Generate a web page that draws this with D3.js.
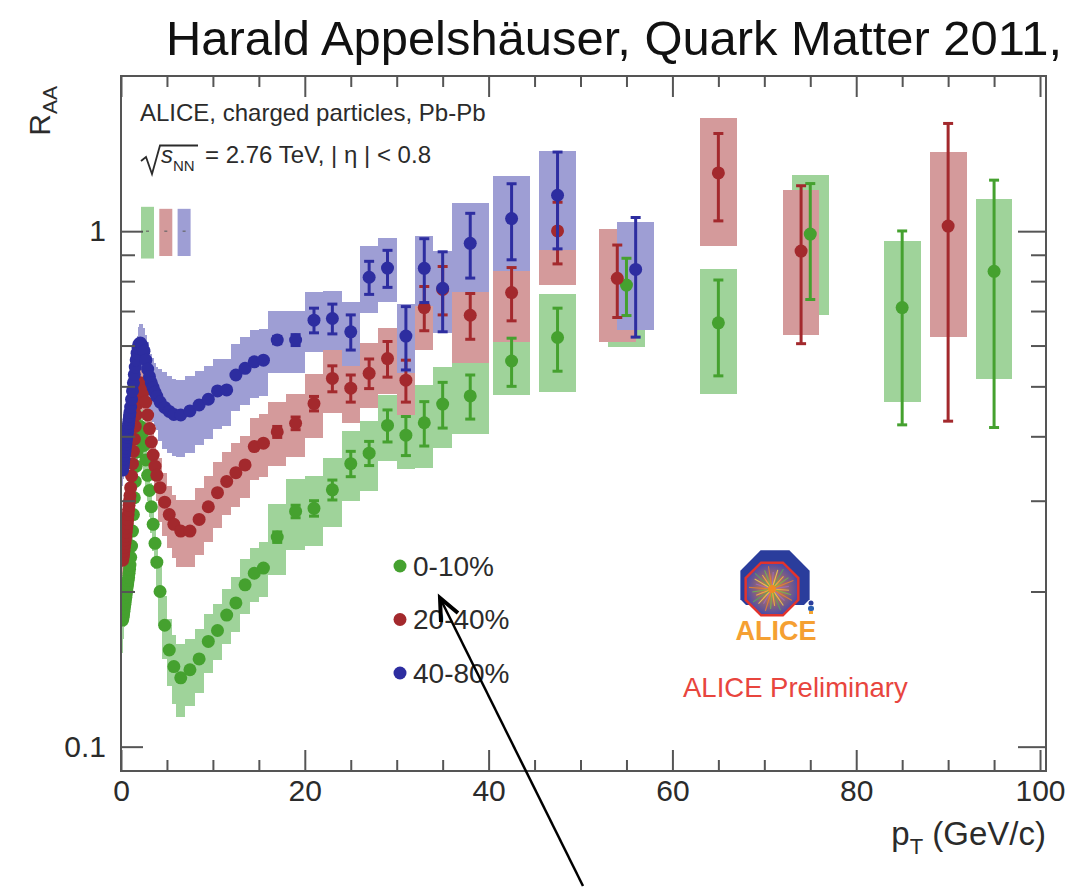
<!DOCTYPE html>
<html>
<head>
<meta charset="utf-8">
<script src="https://cdn.jsdelivr.net/npm/d3@7"></script>
<style>
  body { margin: 0; background: #fff; }
  svg { display: block; }
  text { font-family: "Liberation Sans", Arial, Helvetica, sans-serif; }
</style>
</head>
<body>
<div id="chart"></div>
<script>
// ALICE charged-particle R_AA, Pb-Pb 2.76 TeV (QM2011 preliminary)

// pT bin edges (GeV/c)
const binEdges = [0.15,0.2,0.25,0.3,0.35,0.4,0.45,0.5,0.55,0.6,0.65,0.7,0.75,0.8,0.85,0.9,0.95,1.0,
  1.1,1.2,1.3,1.4,1.5,1.6,1.7,1.8,1.9,2.0,2.2,2.4,2.6,2.8,3.0,3.2,3.4,3.6,3.8,4.0,4.5,5.0,5.5,6,7,8,
  9,10,11,12,13,14,15,16,18,20,22,24,26,28,30,32,34,36,40,45,50,60,70,80,90,100]

// pT points shared by all centralities
const ptCommon = [0.175,0.225,0.275,0.325,0.375,0.425,0.475,0.525,0.575,0.625,0.675,0.725,0.775,0.825,0.875,0.925,0.975,
  1.05,1.15,1.25,1.35,1.45,1.55,1.65,1.75,1.85,1.95,
  2.1,2.3,2.5,2.7,2.9,3.1,3.3,3.5,3.7,3.9,
  4.25,4.75,5.25,5.75,
  6.5,7.5,8.5,9.5,10.5,11.5,12.5,13.5,14.5,15.5,
  17,19,21,23,25,27,29,31,33,35,
  38,42.5,47.5]

// 0-10%
const ptGreen = ptCommon.concat([55,65,75,85,95])
const raaGreen = [0.176,0.178,0.180,0.183,0.186,0.189,0.192,0.195,0.198,0.201,0.204,0.207,0.210,0.213,0.217,0.221,0.225,
  0.233,0.245,0.262,0.282,0.304,0.327,0.350,0.373,0.395,0.410,
  0.418,0.405,0.384,0.360,0.336,0.314,0.292,0.270,0.248,0.228,
  0.200,0.172,0.154,0.143,
  0.136,0.141,0.148,0.160,0.168,0.180,0.190,0.206,0.217,0.222,
  0.255,0.286,0.290,0.315,0.354,0.371,0.420,0.402,0.425,0.462,
  0.479,0.560,0.622,
  0.786,0.664,0.987,0.711,0.836]
const statGreen = [0,0,0,0,0,0,0,0,0,0,0,0,0,0,0,0,0,
  0,0,0,0,0,0,0,0,0,0,
  0,0,0,0,0,0,0,0,0,0,
  0,0,0,0,
  0,0,0,0,0,0,0,0,0,0,
  0.006,0.008,0.010,0.014,0.020,0.020,0.030,0.035,0.042,0.047,
  0.047,0.060,0.087,
  0.10,0.14,0.25,0.29,0.42]
const sysGreen = [0.024,0.020,0.018,0.016,0.015,0.015,0.015,0.016,0.016,0.016,0.016,0.017,0.017,0.017,0.017,0.018,0.018,
  0.021,0.022,0.024,0.025,0.027,0.029,0.032,0.034,0.036,0.037,
  0.046,0.045,0.042,0.040,0.037,0.035,0.032,0.030,0.027,0.025,
  0.028,0.024,0.023,0.022,
  0.022,0.021,0.021,0.021,0.021,0.022,0.023,0.025,0.026,0.027,
  0.040,0.045,0.045,0.048,0.055,0.057,0.062,0.056,0.078,0.083,
  0.075,0.080,0.134,
  0.19,0.18,0.30,0.245,0.32]

// 20-40%
const ptRed = ptCommon.concat([54,65,74,90])
const raaRed = [0.230,0.233,0.236,0.240,0.244,0.248,0.252,0.256,0.261,0.266,0.271,0.276,0.282,0.288,0.294,0.300,0.307,
  0.318,0.335,0.354,0.374,0.395,0.418,0.440,0.462,0.482,0.497,
  0.508,0.506,0.490,0.466,0.440,0.414,0.390,0.368,0.350,0.336,
  0.318,0.298,0.282,0.270,
  0.262,0.262,0.276,0.292,0.311,0.327,0.340,0.352,0.382,0.388,
  0.408,0.424,0.463,0.518,0.496,0.530,0.566,0.514,0.711,0.771,
  0.687,0.760,1.001,
  0.810,1.297,0.915,1.023]
const statRed = [0,0,0,0,0,0,0,0,0,0,0,0,0,0,0,0,0,
  0,0,0,0,0,0,0,0,0,0,
  0,0,0,0,0,0,0,0,0,0,
  0,0,0,0,
  0,0,0,0,0,0,0,0,0,0,
  0.010,0.012,0.015,0.030,0.030,0.035,0.045,0.048,0.070,0.083,
  0.070,0.090,0.137,
  0.13,0.25,0.31,0.595]
const sysRed = [0.016,0.016,0.017,0.017,0.017,0.017,0.018,0.018,0.018,0.019,0.019,0.019,0.020,0.020,0.021,0.021,0.021,
  0.025,0.027,0.028,0.030,0.032,0.033,0.035,0.037,0.039,0.040,
  0.056,0.056,0.054,0.051,0.048,0.046,0.043,0.040,0.039,0.037,
  0.045,0.042,0.039,0.038,
  0.039,0.039,0.041,0.043,0.045,0.046,0.048,0.049,0.053,0.054,
  0.058,0.060,0.066,0.075,0.072,0.077,0.082,0.074,0.123,0.110,
  0.133,0.150,0.215,
  0.20,0.36,0.285,0.40]

// 40-80%
const ptBlue = ptCommon.concat([56])
const raaBlue = [0.344,0.350,0.356,0.362,0.368,0.374,0.380,0.386,0.392,0.398,0.404,0.410,0.417,0.424,0.431,0.438,0.445,
  0.456,0.472,0.490,0.508,0.527,0.545,0.563,0.580,0.594,0.603,
  0.607,0.600,0.585,0.562,0.540,0.522,0.508,0.497,0.487,0.478,
  0.466,0.455,0.447,0.441,
  0.440,0.448,0.460,0.472,0.490,0.492,0.526,0.542,0.558,0.562,
  0.615,0.615,0.672,0.677,0.638,0.814,0.848,0.626,0.847,0.775,
  0.947,1.058,1.174,
  0.843]
const statBlue = [0,0,0,0,0,0,0,0,0,0,0,0,0,0,0,0,0,
  0,0,0,0,0,0,0,0,0,0,
  0,0,0,0,0,0,0,0,0,0,
  0,0,0,0,
  0,0,0,0,0,0,0,0,0,0,
  0.010,0.015,0.037,0.045,0.050,0.060,0.070,0.088,0.120,0.137,
  0.136,0.178,0.250,
  0.22]
const sysBlue = [0.024,0.025,0.025,0.025,0.026,0.026,0.027,0.027,0.027,0.028,0.028,0.029,0.029,0.030,0.030,0.031,0.031,
  0.036,0.038,0.039,0.041,0.042,0.044,0.045,0.046,0.048,0.048,
  0.055,0.060,0.064,0.067,0.070,0.073,0.071,0.070,0.068,0.067,
  0.075,0.077,0.076,0.075,
  0.075,0.076,0.076,0.076,0.076,0.074,0.079,0.081,0.084,0.084,
  0.085,0.085,0.090,0.090,0.090,0.120,0.120,0.096,0.130,0.140,
  0.186,0.220,0.256,
  0.20]

// normalisation uncertainty at R_AA = 1 (0-10, 20-40, 40-80)
const normUnc = [0.115, 0.105, 0.105]

const legendLabels = ["0-10%", "20-40%", "40-80%"]
const xMajor = [0, 20, 40, 60, 80, 100]
const xMinor = [5,10,15,25,30,35,45,50,55,65,70,75,85,90,95]
const yMajor = [0.1, 1]
const yMinor = [0.2,0.3,0.4,0.5,0.6,0.7,0.8,0.9]

const W = 1072, H = 888
const frame = {l: 121, r: 1046, t: 76, b: 771}
const axisColor = "#555"
const textColor = "#2b2b2b"

let svg = d3.select("#chart").append("svg")
  .attr("width", W)
  .attr("height", H)

let x = d3.scaleLinear().domain([0, 100.65]).range([frame.l, frame.r])
let y = d3.scaleLog().domain([0.0897, 2.0]).range([frame.b, frame.t])

let series = [
  {pt: ptGreen, raa: raaGreen, stat: statGreen, sys: sysGreen, color: "#45a12f", box: "#9fd39a"},
  {pt: ptRed,   raa: raaRed,   stat: statRed,   sys: sysRed,   color: "#a3292d", box: "#d49a9b"},
  {pt: ptBlue,  raa: raaBlue,  stat: statBlue,  sys: sysBlue,  color: "#2d2da0", box: "#9e9ed4"}
]

// box width = bin width, at most 4 GeV/c
const halfBin = p => {
  const i = d3.bisectRight(binEdges, p) - 1
  return Math.min(4, binEdges[i + 1] - binEdges[i]) / 2
}

svg.append("defs").append("clipPath").attr("id", "plotclip")
  .append("rect")
    .attr("x", frame.l).attr("y", frame.t)
    .attr("width", frame.r - frame.l).attr("height", frame.b - frame.t)

let plot = svg.append("g").attr("clip-path", "url(#plotclip)")

series.forEach(s => {
  s.points = s.pt.map((p, i) => ({p: p, v: s.raa[i], st: s.stat[i], sy: s.sys[i]}))
})

// systematic boxes first
series.forEach(s => {
  plot.append("g").selectAll("rect")
    .data(s.points)
    .enter()
    .append("rect")
      .attr("x", d => x(d.p - halfBin(d.p)))
      .attr("width", d => x(d.p + halfBin(d.p)) - x(d.p - halfBin(d.p)))
      .attr("y", d => y(d.v + d.sy))
      .attr("height", d => y(d.v - d.sy) - y(d.v + d.sy))
      .attr("fill", s.box)
      .attr("shape-rendering", "crispEdges")
})

// stat error bars + markers
series.forEach(s => {
  let g = plot.append("g")
  let withErr = s.points.filter(d => d.st > 0)
  g.selectAll("line.bar")
    .data(withErr)
    .enter()
    .append("line")
      .attr("x1", d => x(d.p)).attr("x2", d => x(d.p))
      .attr("y1", d => y(d.v + d.st)).attr("y2", d => y(d.v - d.st))
      .attr("stroke", s.color).attr("stroke-width", 3)
  g.selectAll("line.capTop")
    .data(withErr)
    .enter()
    .append("line")
      .attr("x1", d => x(d.p) - 5).attr("x2", d => x(d.p) + 5)
      .attr("y1", d => y(d.v + d.st)).attr("y2", d => y(d.v + d.st))
      .attr("stroke", s.color).attr("stroke-width", 3)
  g.selectAll("line.capBot")
    .data(withErr)
    .enter()
    .append("line")
      .attr("x1", d => x(d.p) - 5).attr("x2", d => x(d.p) + 5)
      .attr("y1", d => y(d.v - d.st)).attr("y2", d => y(d.v - d.st))
      .attr("stroke", s.color).attr("stroke-width", 3)
  g.selectAll("circle")
    .data(s.points)
    .enter()
    .append("circle")
      .attr("cx", d => x(d.p))
      .attr("cy", d => y(d.v))
      .attr("r", 6.5)
      .attr("fill", s.color)
})

// normalisation boxes around 1
normUnc.forEach((u, i) => {
  let cx = frame.l + 26.5 + i * 18.3
  svg.append("rect")
    .attr("x", cx - 6.5).attr("width", 13)
    .attr("y", y(1 + u)).attr("height", y(1 - u) - y(1 + u))
    .attr("fill", series[i].box)
  svg.append("line")
    .attr("x1", cx - 1.5).attr("x2", cx + 1.5)
    .attr("y1", y(1)).attr("y2", y(1))
    .attr("stroke", "#666").attr("stroke-width", 1.2)
})

// frame and axes
svg.append("rect")
  .attr("x", frame.l).attr("y", frame.t)
  .attr("width", frame.r - frame.l).attr("height", frame.b - frame.t)
  .attr("fill", "none").attr("stroke", axisColor).attr("stroke-width", 2)

const styleAxis = (g, fontSize) => {
  g.select(".domain").remove()
  g.selectAll(".tick line").attr("stroke", axisColor).attr("stroke-width", 2)
  g.selectAll(".tick text").attr("fill", textColor).attr("font-size", fontSize)
    .attr("font-family", '"Liberation Sans", Arial, Helvetica, sans-serif')
}

svg.append("g").attr("transform", `translate(0,${frame.b})`)
  .call(d3.axisBottom(x).tickValues(xMajor).tickSizeInner(-21).tickSizeOuter(0).tickPadding(9).tickFormat(d3.format("d")))
  .call(g => styleAxis(g, 30))
svg.append("g").attr("transform", `translate(0,${frame.b})`)
  .call(d3.axisBottom(x).tickValues(xMinor).tickSizeInner(-11).tickSizeOuter(0).tickFormat(""))
  .call(g => styleAxis(g, 0))
svg.append("g").attr("transform", `translate(0,${frame.t})`)
  .call(d3.axisTop(x).tickValues(xMajor).tickSizeInner(-21).tickSizeOuter(0).tickFormat(""))
  .call(g => styleAxis(g, 0))
svg.append("g").attr("transform", `translate(0,${frame.t})`)
  .call(d3.axisTop(x).tickValues(xMinor).tickSizeInner(-11).tickSizeOuter(0).tickFormat(""))
  .call(g => styleAxis(g, 0))
svg.append("g").attr("transform", `translate(${frame.l},0)`)
  .call(d3.axisLeft(y).tickValues(yMajor).tickSizeInner(-22).tickSizeOuter(0).tickPadding(15).tickFormat(d => d === 1 ? "1" : "0.1"))
  .call(g => styleAxis(g, 30))
svg.append("g").attr("transform", `translate(${frame.l},0)`)
  .call(d3.axisLeft(y).tickValues(yMinor).tickSizeInner(-14).tickSizeOuter(0).tickFormat(""))
  .call(g => styleAxis(g, 0))
svg.append("g").attr("transform", `translate(${frame.r},0)`)
  .call(d3.axisRight(y).tickValues(yMajor).tickSizeInner(-28).tickSizeOuter(0).tickFormat(""))
  .call(g => styleAxis(g, 0))
svg.append("g").attr("transform", `translate(${frame.r},0)`)
  .call(d3.axisRight(y).tickValues(yMinor).tickSizeInner(-15).tickSizeOuter(0).tickFormat(""))
  .call(g => styleAxis(g, 0))

// axis titles
let ytitle = svg.append("text")
  .attr("transform", "translate(50,86) rotate(-90)")
  .attr("text-anchor", "end")
  .attr("fill", textColor)
  .attr("font-size", 30)
ytitle.append("tspan").text("R")
ytitle.append("tspan").attr("font-size", 21).attr("dy", 7).text("AA")

let xtitle = svg.append("text")
  .attr("x", frame.r).attr("y", 845)
  .attr("text-anchor", "end")
  .attr("fill", textColor)
  .attr("font-size", 33)
xtitle.append("tspan").text("p")
xtitle.append("tspan").attr("font-size", 22).attr("dy", 9).text("T")
xtitle.append("tspan").attr("dy", -9).text(" (GeV/c)")

// title
svg.append("text")
  .attr("x", 166).attr("y", 55)
  .attr("fill", "#111")
  .attr("font-size", 49)
  .attr("textLength", 896)
  .attr("lengthAdjust", "spacingAndGlyphs")
  .text("Harald Appelshäuser, Quark Matter 2011,")

// system labels
svg.append("text")
  .attr("x", 140).attr("y", 121)
  .attr("fill", textColor).attr("font-size", 24)
  .text("ALICE, charged particles, Pb-Pb")
svg.append("path")
  .attr("d", "M141,161 L146,157 L152,174 L160,145.5 L198,145.5")
  .attr("fill", "none").attr("stroke", textColor).attr("stroke-width", 1.8)
svg.append("text")
  .attr("x", 161).attr("y", 163)
  .attr("fill", textColor).attr("font-size", 24).attr("font-style", "italic")
  .text("s")
svg.append("text")
  .attr("x", 173).attr("y", 171)
  .attr("fill", textColor).attr("font-size", 15)
  .text("NN")
svg.append("text")
  .attr("x", 205).attr("y", 163)
  .attr("fill", textColor).attr("font-size", 24)
  .text("= 2.76 TeV, | η | < 0.8")

// legend
legendLabels.forEach((lab, i) => {
  let ly = 566 + i * 53.5
  svg.append("circle")
    .attr("cx", 400).attr("cy", ly).attr("r", 6.5)
    .attr("fill", series[i].color)
  svg.append("text")
    .attr("x", 413).attr("y", ly)
    .attr("dominant-baseline", "central")
    .attr("fill", textColor).attr("font-size", 28)
    .text(lab)
})

// ALICE logo
let defs = svg.select("defs")
let grad = defs.append("radialGradient").attr("id", "burst")
grad.append("stop").attr("offset", "0%").attr("stop-color", "#f4a531")
grad.append("stop").attr("offset", "35%").attr("stop-color", "#b7735a")
grad.append("stop").attr("offset", "100%").attr("stop-color", "#4b4ba8")
defs.append("clipPath").attr("id", "logoclip")
  .append("rect").attr("x", -60).attr("y", -60).attr("width", 120).attr("height", 80)

const octagon = r => d3.range(8).map(k => {
  let a = Math.PI / 8 + k * Math.PI / 4
  return [r * Math.cos(a), r * Math.sin(a)]
})

let logo = svg.append("g").attr("transform", "translate(775,585)")
logo.append("polygon")
  .attr("points", octagon(37.5).join(" "))
  .attr("fill", "#2a3d9c")
  .attr("clip-path", "url(#logoclip)")
let inner = svg.append("g").attr("transform", "translate(772,589)")
inner.append("polygon")
  .attr("points", octagon(28.5).join(" "))
  .attr("fill", "url(#burst)")
  .attr("stroke", "#e2332c").attr("stroke-width", 2.5)
const rayColors = ["#f6b93b", "#6fbf4a", "#e8812f", "#9c6cc4", "#f2d04a", "#58a85a"]
d3.range(28).forEach(k => {
  let a = k * Math.PI * 2 / 28 + 0.07
  let len = 17 + (k % 3) * 3
  inner.append("line")
    .attr("x1", 0).attr("y1", 0)
    .attr("x2", len * Math.cos(a)).attr("y2", len * Math.sin(a))
    .attr("stroke", rayColors[k % rayColors.length]).attr("stroke-width", 1.1)
    .attr("opacity", 0.85)
})
inner.append("circle").attr("r", 4).attr("fill", "#f08a24")
svg.append("circle").attr("cx", 811).attr("cy", 603).attr("r", 2.5).attr("fill", "#2a3d9c")
svg.append("rect").attr("x", 808).attr("y", 606).attr("width", 6).attr("height", 5).attr("rx", 2).attr("fill", "#2a5fb0")
svg.append("rect").attr("x", 809).attr("y", 611).attr("width", 4).attr("height", 3).attr("fill", "#f4a531")
svg.append("text")
  .attr("x", 776).attr("y", 640)
  .attr("text-anchor", "middle")
  .attr("fill", "#f5a032").attr("font-size", 27).attr("font-weight", "bold")
  .text("ALICE")

svg.append("text")
  .attr("x", 683).attr("y", 697)
  .attr("fill", "#e8453e").attr("font-size", 27.5)
  .text("ALICE Preliminary")

// annotation arrow
svg.append("line")
  .attr("x1", 583).attr("y1", 886).attr("x2", 441).attr("y2", 600)
  .attr("stroke", "#000").attr("stroke-width", 2.5)
svg.append("path")
  .attr("d", "M458,613 L440,598 L441,622")
  .attr("fill", "none").attr("stroke", "#000").attr("stroke-width", 4)
  .attr("stroke-linejoin", "miter")
</script>
</body>
</html>
